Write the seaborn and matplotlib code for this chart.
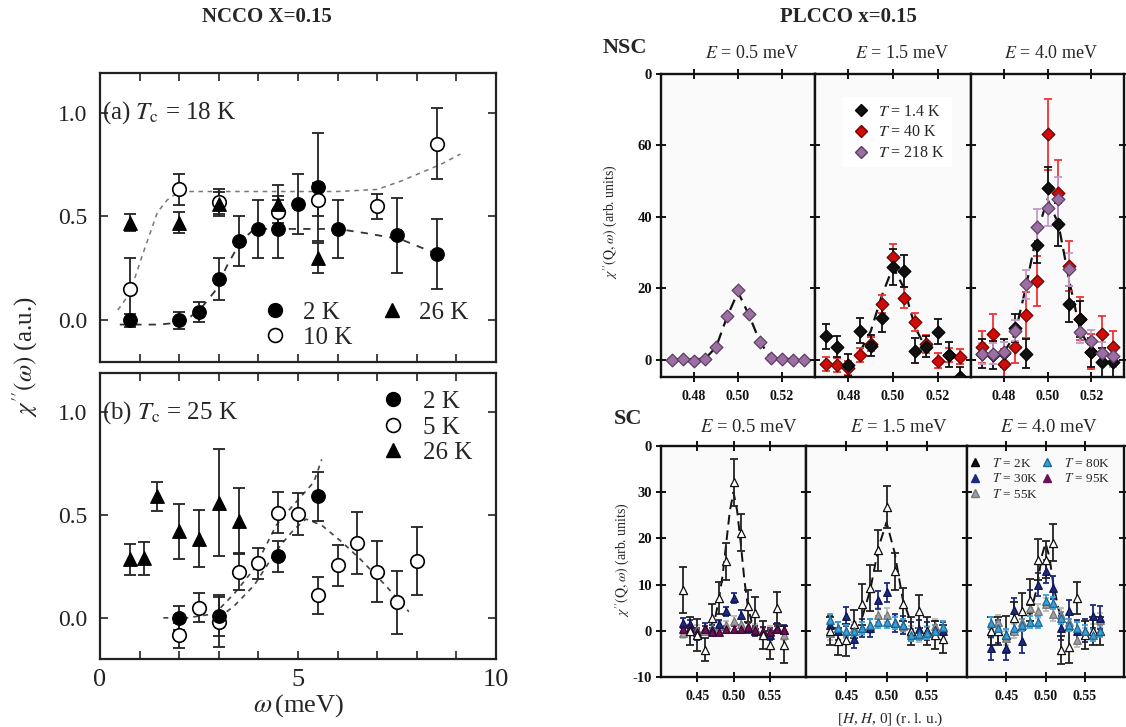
import numpy as np
import pandas as pd
import matplotlib
matplotlib.use("Agg")
import matplotlib.pyplot as plt
import seaborn as sns
from matplotlib.lines import Line2D
from matplotlib.ticker import FormatStrFormatter

# ---------------- NCCO x=0.15, panel (a) Tc = 18 K ----------------
a_2K_w = [0.75, 2.0, 2.5, 3.0, 3.5, 4.0, 4.5, 5.0, 5.5, 6.0, 7.5, 8.5]
a_2K_chi = [0.0, 0.0, 0.04, 0.20, 0.38, 0.44, 0.44, 0.56, 0.64, 0.44, 0.41, 0.32]
a_2K_err = [0.03, 0.04, 0.05, 0.10, 0.12, 0.14, 0.14, 0.145, 0.26, 0.14, 0.18, 0.17]
a_10K_w = [0.75, 2.0, 3.0, 4.5, 5.5, 7.0, 8.5]
a_10K_chi = [0.15, 0.63, 0.57, 0.52, 0.58, 0.55, 0.85]
a_10K_err = [0.15, 0.075, 0.06, 0.08, 0.08, 0.06, 0.17]
a_26K_w = [0.75, 2.0, 3.0, 4.5, 5.5]
a_26K_chi = [0.47, 0.47, 0.56, 0.56, 0.30]
a_26K_err = [0.04, 0.05, 0.06, 0.09, 0.07]
a_fit10_w = [0.45, 0.75, 1.1, 1.45, 1.7, 2.0, 3.0, 4.0, 5.0, 6.0, 7.0, 7.6, 8.1, 8.6, 9.1]
a_fit10_chi = [0.05, 0.13, 0.33, 0.52, 0.58, 0.62, 0.62, 0.62, 0.62, 0.62, 0.63, 0.67, 0.71, 0.75, 0.80]
a_fit2_w = [0.5, 1.5, 2.0, 2.3, 2.6, 2.9, 3.2, 3.55, 3.9, 5.0, 6.0, 6.7, 7.6, 8.5]
a_fit2_chi = [-0.02, -0.02, -0.01, 0.02, 0.07, 0.14, 0.26, 0.38, 0.44, 0.44, 0.44, 0.42, 0.39, 0.32]

# ---------------- NCCO panel (b) Tc = 25 K ----------------
b_2K_w = [2.0, 3.0, 4.5, 5.5]
b_2K_chi = [0.0, 0.01, 0.30, 0.59]
b_2K_err = [0.06, 0.10, 0.075, 0.12]
b_5K_w = [2.0, 2.5, 3.0, 3.5, 4.0, 4.5, 5.0, 5.5, 6.0, 6.5, 7.0, 7.5, 8.0]
b_5K_chi = [-0.085, 0.05, -0.02, 0.225, 0.265, 0.51, 0.505, 0.11, 0.255, 0.365, 0.225, 0.075, 0.275]
b_5K_err = [0.06, 0.07, 0.12, 0.09, 0.075, 0.10, 0.10, 0.09, 0.10, 0.15, 0.15, 0.155, 0.165]
b_26K_w = [0.75, 1.1, 1.45, 2.0, 2.5, 3.0, 3.5]
b_26K_chi = [0.285, 0.29, 0.59, 0.42, 0.385, 0.56, 0.47]
b_26K_err = [0.075, 0.08, 0.07, 0.135, 0.14, 0.26, 0.16]
b_fitA_w = [1.6, 2.2, 2.9, 3.4, 3.9, 4.45, 4.8, 5.4, 5.6]
b_fitA_chi = [0.0, 0.0, 0.02, 0.12, 0.24, 0.45, 0.53, 0.66, 0.77]
b_fitB_w = [3.0, 3.4, 3.9, 4.2, 4.55, 4.9, 5.2, 5.6, 6.1, 6.6, 7.2, 7.8]
b_fitB_chi = [0.0, 0.06, 0.16, 0.25, 0.35, 0.43, 0.48, 0.45, 0.37, 0.28, 0.16, 0.03]

# ---------------- PLCCO NSC ----------------
nsc_h = [0.470, 0.475, 0.480, 0.485, 0.490, 0.495, 0.500, 0.505, 0.510, 0.515, 0.520, 0.525, 0.530]
nsc05_218K = [0.0, 0.2, -0.3, 0.3, 3.5, 12.3, 19.5, 12.8, 5.0, 0.5, 0.3, 0.0, 0.0]
nsc05_218K_err = [0.5] * 13
nsc05_fit_h = [0.470, 0.485, 0.490, 0.495, 0.500, 0.505, 0.510, 0.515, 0.530]
nsc05_fit = [0.0, 0.3, 3.5, 12.0, 19.0, 12.5, 5.0, 0.5, 0.0]
nsc15_1p4K = [6.6, 3.7, -1.4, 8.2, 4.0, 11.7, 26.0, 24.8, 2.6, 3.7, 7.9, 1.4, -4.9]
nsc15_1p4K_err = [3.5, 3, 3, 3.5, 3, 4, 5, 4.5, 3.5, 3, 3.5, 3.5, 3]
nsc15_40K = [-1.1, -1.4, -2.3, 1.4, 4.5, 15.7, 28.8, 17.4, 10.7, 4.5, -0.2, 1.4, 0.9]
nsc15_40K_err = [2, 2, 2, 2, 2, 2.5, 3.5, 3, 2.5, 2.5, 2, 2, 2]
nsc15_fit_h = [0.485, 0.490, 0.495, 0.500, 0.505, 0.510, 0.515]
nsc15_fit = [2.0, 8.0, 18.0, 26.0, 20.0, 9.0, 3.0]
nsc40_1p4K = [1.7, 1.4, 1.9, 8.9, 1.7, 32.2, 48.1, 37.9, 15.7, 11.5, 2.1, -0.7, -0.7]
nsc40_1p4K_err = [4, 4, 4, 4, 4, 5, 6, 6, 5, 5, 4, 4, 4]
nsc40_40K = [3.6, 7.3, -1.1, 3.6, 12.6, 22.2, 63.1, 46.8, 26.4, 11.5, 2.3, 7.3, 3.6]
nsc40_40K_err = [4.5, 5.5, 4, 4.5, 6.5, 7, 10, 9, 7, 6, 5, 5, 4.5]
nsc40_218K = [1.7, 1.7, 2.1, 8.2, 21.1, 37.2, 42.5, 45.1, 25.3, 7.8, 5.4, 2.0, 1.0]
nsc40_218K_err = [3, 3, 3, 3, 4, 5, 5, 6, 4.5, 3, 3, 3, 3]
nsc40_fit_h = [0.480, 0.485, 0.490, 0.495, 0.500, 0.505, 0.510, 0.515, 0.520]
nsc40_fit = [2.0, 7.0, 20.0, 35.0, 45.0, 38.0, 22.0, 8.0, 3.0]

# ---------------- PLCCO SC ----------------
sc_h = [0.43, 0.44, 0.45, 0.46, 0.47, 0.48, 0.49, 0.50, 0.51, 0.52, 0.53, 0.54, 0.55, 0.56, 0.57]
sc05_2K = [8.9, -0.1, -0.9, -4.1, 2.8, 7.1, 15.1, 32.1, 21.2, 5.3, 3.8, -0.9, -3.0, 4.9, -3.0]
sc05_2K_err = [5, 3, 3.5, 2.5, 3, 3.5, 4, 5, 4, 3.5, 3.5, 3, 3, 3.5, 4]
sc05_30K = [1.7, 1.4, -0.9, 0.6, 0.2, 1.4, 4.2, 7.1, 3.5, 0.6, -0.1, -0.1, -0.9, 0.6, 0.2]
sc05_55K = [-0.5, 0.5, 0.2, 0.0, 0.5, 1.0, 1.2, 2.2, 1.5, 1.0, 0.5, -0.5, 0.0, 0.5, -1.0]
sc05_95K = [0.3, 0.5, -0.3, 0.3, -0.3, -0.2, 0.3, 0.3, 0.4, 0.8, 0.2, 0.0, -0.3, 0.3, 0.2]
sc05_fit_h = [0.475, 0.480, 0.485, 0.490, 0.495, 0.500, 0.505, 0.510, 0.515, 0.520, 0.525]
sc05_fit = [3.0, 7.0, 12.0, 19.0, 26.0, 30.0, 26.0, 19.0, 11.0, 5.0, 2.0]
sc15_2K = [0.0, -2.3, -2.0, 1.4, 5.7, 9.3, 17.4, 26.8, 12.9, 5.7, 0.0, 4.2, -0.1, -0.9, -1.7]
sc15_2K_err = [3, 3, 3.5, 3, 4.5, 5, 4.5, 4.5, 4, 3.5, 3, 3.5, 3, 3, 3]
sc15_30K = [1.3, 0.0, 3.1, -1.7, 0.6, 0.6, 6.7, 8.3, 1.7, 1.3, -0.1, 0.3, 0.0, 0.2, 0.0]
sc15_55K = [-0.5, 0.5, 0.0, 0.5, 0.5, 1.0, 3.5, 3.5, 2.0, 1.0, -0.5, -1.0, -0.5, 1.0, 0.5]
sc15_80K = [2.4, 0.6, 0.0, -0.1, 0.6, 1.3, 1.9, 2.0, 1.7, 1.2, -0.9, -0.7, -0.5, -0.1, 0.9]
sc15_fit_h = [0.47, 0.48, 0.49, 0.50, 0.51, 0.52, 0.53]
sc15_fit = [3.0, 9.0, 18.0, 23.5, 17.0, 7.0, 2.0]
sc40_2K = [-0.1, -0.1, -0.9, 2.8, 4.2, 6.7, 15.4, 15.4, 19.1, -4.1, -3.4, 7.1, -0.9, 0.0, 0.0]
sc40_2K_err = [3, 3, 4, 3.5, 4, 4.5, 4.5, 4, 4, 3, 3.5, 3.5, 3, 3, 3]
sc40_30K = [-3.8, -0.1, -3.8, 4.6, -2.3, 6.4, 10.0, 12.9, 9.3, 0.6, 4.2, -0.1, 0.0, 3.1, 2.8]
sc40_55K = [0.0, 2.0, -1.6, 0.0, 2.0, 4.9, 4.2, 5.7, 3.6, 3.5, 2.0, -2.0, -0.9, 0.0, 2.4]
sc40_80K = [1.7, 0.6, -0.9, 0.6, 1.3, 2.0, 2.0, 6.4, 6.1, 2.8, 1.3, 0.6, 0.0, -0.9, 0.0]
sc40_fit_h = [0.48, 0.49, 0.495, 0.50, 0.505, 0.51, 0.52]
sc40_fit = [3.0, 10.0, 16.0, 19.0, 16.0, 10.0, 2.0]

# ---------------- style ----------------
sns.set_theme(style="ticks")
plt.rcParams["font.family"] = ["Liberation Serif", "DejaVu Serif"]
plt.rcParams["mathtext.fontset"] = "stix"
plt.rcParams["axes.unicode_minus"] = False

W, H = 1126, 727
fig = plt.figure(figsize=(W / 100, H / 100), dpi=100)
fig.patch.set_facecolor("white")


def px_axes(l, t, r, b):
    return fig.add_axes([l / W, 1 - b / H, (r - l) / W, (b - t) / H])


def fig_text(x, y, s, **kw):
    fig.text(x / W, 1 - y / H, s, **kw)


def draw_series(ax, x, y, err, marker, size, face, edge, ecolor, lw=0.9, capsize=3, elw=1.3):
    if err is not None:
        ax.errorbar(x, y, yerr=err, fmt="none", ecolor=ecolor, elinewidth=elw,
                    capsize=capsize, capthick=elw, zorder=2)
    sns.scatterplot(x=x, y=y, ax=ax, marker=marker, s=size, color=face,
                    edgecolor=edge, linewidth=lw, zorder=3, legend=False)


def draw_fit(ax, x, y, color="k", ls=(0, (4, 3)), lw=1.2, alpha=1.0):
    sns.lineplot(x=x, y=y, ax=ax, color=color, linestyle=ls, lw=lw, sort=False,
                 estimator=None, zorder=1, alpha=alpha)


# ================= LEFT: NCCO =================
def style_left(ax, show_x):
    ax.set_xlim(0, 10)
    ax.set_ylim(-0.2, 1.19)
    ax.set_xticks(range(11))
    if show_x:
        ax.set_xticklabels(["0", "", "", "", "", "5", "", "", "", "", "10"])
    else:
        ax.set_xticklabels([])
    ax.set_yticks([0.0, 0.5, 1.0])
    ax.set_yticklabels(["0.0", "0.5", "1.0"])
    ax.tick_params(direction="in", length=6, width=1.2, top=True, right=True,
                   labelsize=17, pad=9, colors="#222222")
    ax.tick_params(axis="x", labelsize=19, pad=7)
    for s in ax.spines.values():
        s.set_linewidth(1.6)
        s.set_color("#222222")
    ax.set_xlabel("")
    ax.set_ylabel("")


ax_a = px_axes(100, 73, 496, 362)
draw_fit(ax_a, a_fit10_w, a_fit10_chi, color="#777777", ls=(0, (3, 3)), lw=1.1)
draw_fit(ax_a, a_fit2_w, a_fit2_chi, color="#333333", ls=(0, (4, 4)), lw=1.3)
draw_series(ax_a, a_2K_w, a_2K_chi, a_2K_err, "o", 95, "black", "black", "#222222", capsize=4)
draw_series(ax_a, a_10K_w, a_10K_chi, a_10K_err, "o", 95, "white", "black", "#222222", lw=1.2, capsize=4)
draw_series(ax_a, a_26K_w, a_26K_chi, a_26K_err, "^", 95, "black", "black", "#222222", capsize=4)
style_left(ax_a, False)
ax_a.text(0.06, 1.0, r"(a) $T_{\mathrm{c}}$ = 18 K", fontsize=18, ha="left", va="center")
h2 = Line2D([], [], marker="o", ls="none", ms=10, mfc="black", mec="black")
h10 = Line2D([], [], marker="o", ls="none", ms=10, mfc="white", mec="black", mew=1.2)
h26 = Line2D([], [], marker="^", ls="none", ms=10, mfc="black", mec="black")
ax_a.legend([h2, h10, h26], ["2 K", "10 K", "26 K"], ncol=2, loc="upper left",
            bbox_to_anchor=(0.36, 0.27), frameon=False, fontsize=18,
            handletextpad=0.5, columnspacing=1.0, labelspacing=0.1, borderpad=0.2,
            handlelength=1.2)

ax_b = px_axes(100, 373, 496, 659)
draw_fit(ax_b, b_fitA_w, b_fitA_chi, color="#444444", ls=(0, (3, 3)), lw=1.2)
draw_fit(ax_b, b_fitB_w, b_fitB_chi, color="#444444", ls=(0, (3, 3)), lw=1.2)
draw_series(ax_b, b_26K_w, b_26K_chi, b_26K_err, "^", 95, "black", "black", "#222222", capsize=4)
draw_series(ax_b, b_5K_w, b_5K_chi, b_5K_err, "o", 95, "white", "black", "#222222", lw=1.2, capsize=4)
draw_series(ax_b, b_2K_w, b_2K_chi, b_2K_err, "o", 95, "black", "black", "#222222", capsize=4)
style_left(ax_b, True)
ax_b.text(0.06, 1.0, r"(b) $T_{\mathrm{c}}$ = 25 K", fontsize=18, ha="left", va="center")
hb5 = Line2D([], [], marker="o", ls="none", ms=10, mfc="white", mec="black", mew=1.2)
ax_b.legend([h2, hb5, h26], ["2 K", "5 K", "26 K"], loc="upper right",
            bbox_to_anchor=(0.985, 1.0), frameon=False, fontsize=18,
            handletextpad=0.6, labelspacing=0.12, borderpad=0.2, handlelength=1.2)

fig_text(25, 357, r"$\chi''(\omega)$ (a.u.)", fontsize=18, rotation=90, ha="center", va="center")
fig_text(298, 706, r"$\omega\,$(meV)", fontsize=19, ha="center", va="center")
fig_text(267, 17, "NCCO X=0.15", fontsize=15, fontweight="bold", ha="center", va="center")
fig_text(848, 17, "PLCCO x=0.15", fontsize=15, fontweight="bold", ha="center", va="center")


# ================= RIGHT: PLCCO =================
def style_right(ax, xlim, ylim, xticks, yticks, yticklabels, xfmt, show_y):
    ax.set_facecolor("#fafafa")
    ax.set_xlim(*xlim)
    ax.set_ylim(*ylim)
    ax.set_xticks(xticks)
    ax.xaxis.set_major_formatter(FormatStrFormatter(xfmt))
    ax.set_yticks(yticks)
    if show_y:
        ax.set_yticklabels(yticklabels)
    else:
        ax.set_yticklabels([])
    ax.tick_params(direction="inout", length=7, width=1.4, top=True, right=True, colors="#111111")
    ax.tick_params(axis="x", labelsize=10, pad=6)
    ax.tick_params(axis="y", labelsize=10.5, pad=3)
    for lab in ax.get_xticklabels() + ax.get_yticklabels():
        lab.set_fontweight("bold")
    for s in ax.spines.values():
        s.set_linewidth(1.7)
        s.set_color("#111111")
    ax.set_xlabel("")
    ax.set_ylabel("")


c_black = "#111111"
c_red = "#d10a0a"
c_red_e = "#ee3333"
c_purple = "#9c6fa3"
c_purple_e = "#c39ac8"
c_navy = "#1c2a80"
c_grey = "#a0a0a0"
c_lblue = "#3d9fd3"
c_maroon = "#6e1055"

nsc_x = [661, 815, 971, 1124]
nsc_ylim = (-4.8, 80)
nsc_yt = [0, 20, 40, 60, 80]
nsc_ytl = ["0", "20", "40", "60", "0"]
nsc_axes = []
for i in range(3):
    ax = px_axes(nsc_x[i], 74, nsc_x[i + 1], 377)
    nsc_axes.append(ax)

ax = nsc_axes[0]
draw_fit(ax, nsc05_fit_h, nsc05_fit, color="#111111", ls=(0, (5, 3)), lw=1.6)
draw_series(ax, nsc_h, nsc05_218K, nsc05_218K_err, "D", 42, c_purple, "#5d3c63", c_purple_e, capsize=2)

ax = nsc_axes[1]
draw_fit(ax, nsc15_fit_h, nsc15_fit, color="#111111", ls=(0, (5, 3)), lw=1.6)
draw_series(ax, nsc_h, nsc15_40K, nsc15_40K_err, "D", 42, c_red, "#700000", c_red_e, capsize=3)
draw_series(ax, nsc_h, nsc15_1p4K, nsc15_1p4K_err, "D", 42, c_black, "#000000", c_black, capsize=3)

ax = nsc_axes[2]
draw_fit(ax, nsc40_fit_h, nsc40_fit, color="#111111", ls=(0, (5, 3)), lw=1.6)
draw_series(ax, nsc_h, nsc40_40K, nsc40_40K_err, "D", 42, c_red, "#700000", c_red_e, capsize=3)
draw_series(ax, nsc_h, nsc40_1p4K, nsc40_1p4K_err, "D", 42, c_black, "#000000", c_black, capsize=3)
draw_series(ax, nsc_h, nsc40_218K, nsc40_218K_err, "D", 42, c_purple, "#5d3c63", c_purple_e, capsize=3)

for i, ax in enumerate(nsc_axes):
    style_right(ax, (0.465, 0.535), nsc_ylim, [0.48, 0.50, 0.52], nsc_yt, nsc_ytl, "%.2f", i == 0)

hn1 = Line2D([], [], marker="D", ls="none", ms=6, mfc=c_black, mec="black")
hn2 = Line2D([], [], marker="D", ls="none", ms=6, mfc=c_red, mec="#700000")
hn3 = Line2D([], [], marker="D", ls="none", ms=6, mfc=c_purple, mec="#5d3c63")
nsc_axes[1].legend([hn1, hn2, hn3], [r"$T$ = 1.4 K", r"$T$ = 40 K", r"$T$ = 218 K"],
                   loc="upper left", bbox_to_anchor=(0.13, 0.95), frameon=True,
                   facecolor="white", edgecolor="none", framealpha=1, fancybox=False,
                   fontsize=11.5, handletextpad=0.4, labelspacing=0.3, borderpad=0.4,
                   handlelength=1.4)

sc_x = [661, 806, 967, 1124]
sc_ylim = (-10, 40)
sc_yt = [-10, 0, 10, 20, 30, 40]
sc_ytl = ["-10", "0", "10", "20", "30", "0"]
sc_axes = []
for i in range(3):
    ax = px_axes(sc_x[i], 446, sc_x[i + 1], 677)
    sc_axes.append(ax)

ax = sc_axes[0]
draw_fit(ax, sc05_fit_h, sc05_fit, color="#111111", ls=(0, (5, 3)), lw=1.4)
draw_series(ax, sc_h, sc05_55K, [1.0] * 15, "^", 30, c_grey, "#777777", "#bbbbbb", capsize=2)
draw_series(ax, sc_h, sc05_30K, [1.0] * 15, "^", 30, c_navy, "#0d1550", c_navy, capsize=2)
draw_series(ax, sc_h, sc05_95K, [0.8] * 15, "^", 30, c_maroon, "#3d0830", c_maroon, capsize=2)
draw_series(ax, sc_h, sc05_2K, sc05_2K_err, "^", 34, "white", "#111111", "#222222", capsize=3)

ax = sc_axes[1]
draw_fit(ax, sc15_fit_h, sc15_fit, color="#111111", ls=(0, (5, 3)), lw=1.4)
draw_series(ax, sc_h, sc15_55K, [1.5] * 15, "^", 30, c_grey, "#777777", "#bbbbbb", capsize=2)
draw_series(ax, sc_h, sc15_30K, [2.0] * 15, "^", 30, c_navy, "#0d1550", c_navy, capsize=2)
draw_series(ax, sc_h, sc15_2K, sc15_2K_err, "^", 34, "white", "#111111", "#222222", capsize=3)
draw_series(ax, sc_h, sc15_80K, [1.3] * 15, "^", 30, c_lblue, "#1a6a99", c_lblue, capsize=2)

ax = sc_axes[2]
draw_fit(ax, sc40_fit_h, sc40_fit, color="#111111", ls=(0, (5, 3)), lw=1.4)
draw_series(ax, sc_h, sc40_55K, [1.5] * 15, "^", 30, c_grey, "#777777", "#bbbbbb", capsize=2)
draw_series(ax, sc_h, sc40_30K, [2.5] * 15, "^", 30, c_navy, "#0d1550", c_navy, capsize=2)
draw_series(ax, sc_h, sc40_2K, sc40_2K_err, "^", 34, "white", "#111111", "#222222", capsize=3)
draw_series(ax, sc_h, sc40_80K, [1.3] * 15, "^", 30, c_lblue, "#1a6a99", c_lblue, capsize=2)

for i, ax in enumerate(sc_axes):
    style_right(ax, (0.40, 0.60), sc_ylim, [0.45, 0.50, 0.55], sc_yt, sc_ytl, "%.2f", i == 0)

hs1 = Line2D([], [], marker="^", ls="none", ms=6, mfc=c_black, mec="black")
hs2 = Line2D([], [], marker="^", ls="none", ms=6, mfc=c_navy, mec=c_navy)
hs3 = Line2D([], [], marker="^", ls="none", ms=6, mfc=c_grey, mec="#777777")
hs4 = Line2D([], [], marker="^", ls="none", ms=6, mfc=c_lblue, mec="#1a6a99")
hs5 = Line2D([], [], marker="^", ls="none", ms=6, mfc=c_maroon, mec=c_maroon)
sc_axes[2].legend([hs1, hs2, hs3, hs4, hs5],
                  [r"$T$ = 2K", r"$T$ = 30K", r"$T$ = 55K", r"$T$ = 80K", r"$T$ = 95K"],
                  ncol=2, loc="upper left", bbox_to_anchor=(-0.06, 1.0), frameon=False,
                  fontsize=9.5, handletextpad=0.8, columnspacing=0.2, labelspacing=0.2,
                  borderpad=0.3, handlelength=1.0)

# panel titles
for xc, lab in zip([752, 902, 1051], ["0.5", "1.5", "4.0"]):
    fig_text(xc, 54, r"$E$ = " + lab + " meV", fontsize=13, ha="center", va="center")
for xc, lab in zip([749, 899, 1049], ["0.5", "1.5", "4.0"]):
    fig_text(xc, 427, r"$E$ = " + lab + " meV", fontsize=13.5, ha="center", va="center")
fig_text(625, 48, "NSC", fontsize=16, fontweight="bold", ha="center", va="center")
fig_text(628, 419, "SC", fontsize=16, fontweight="bold", ha="center", va="center")
fig_text(611, 222, r"$\chi''(\mathrm{Q},\omega)$ (arb. units)", fontsize=10, rotation=90,
         ha="center", va="center")
fig_text(623, 560, r"$\chi''(\mathrm{Q},\omega)$ (arb. units)", fontsize=10, rotation=90,
         ha="center", va="center")
fig_text(890, 719, r"[$H$, $H$, 0] (r. l. u.)", fontsize=11, ha="center", va="center")

fig.savefig("out.png", dpi=100, facecolor="white")
